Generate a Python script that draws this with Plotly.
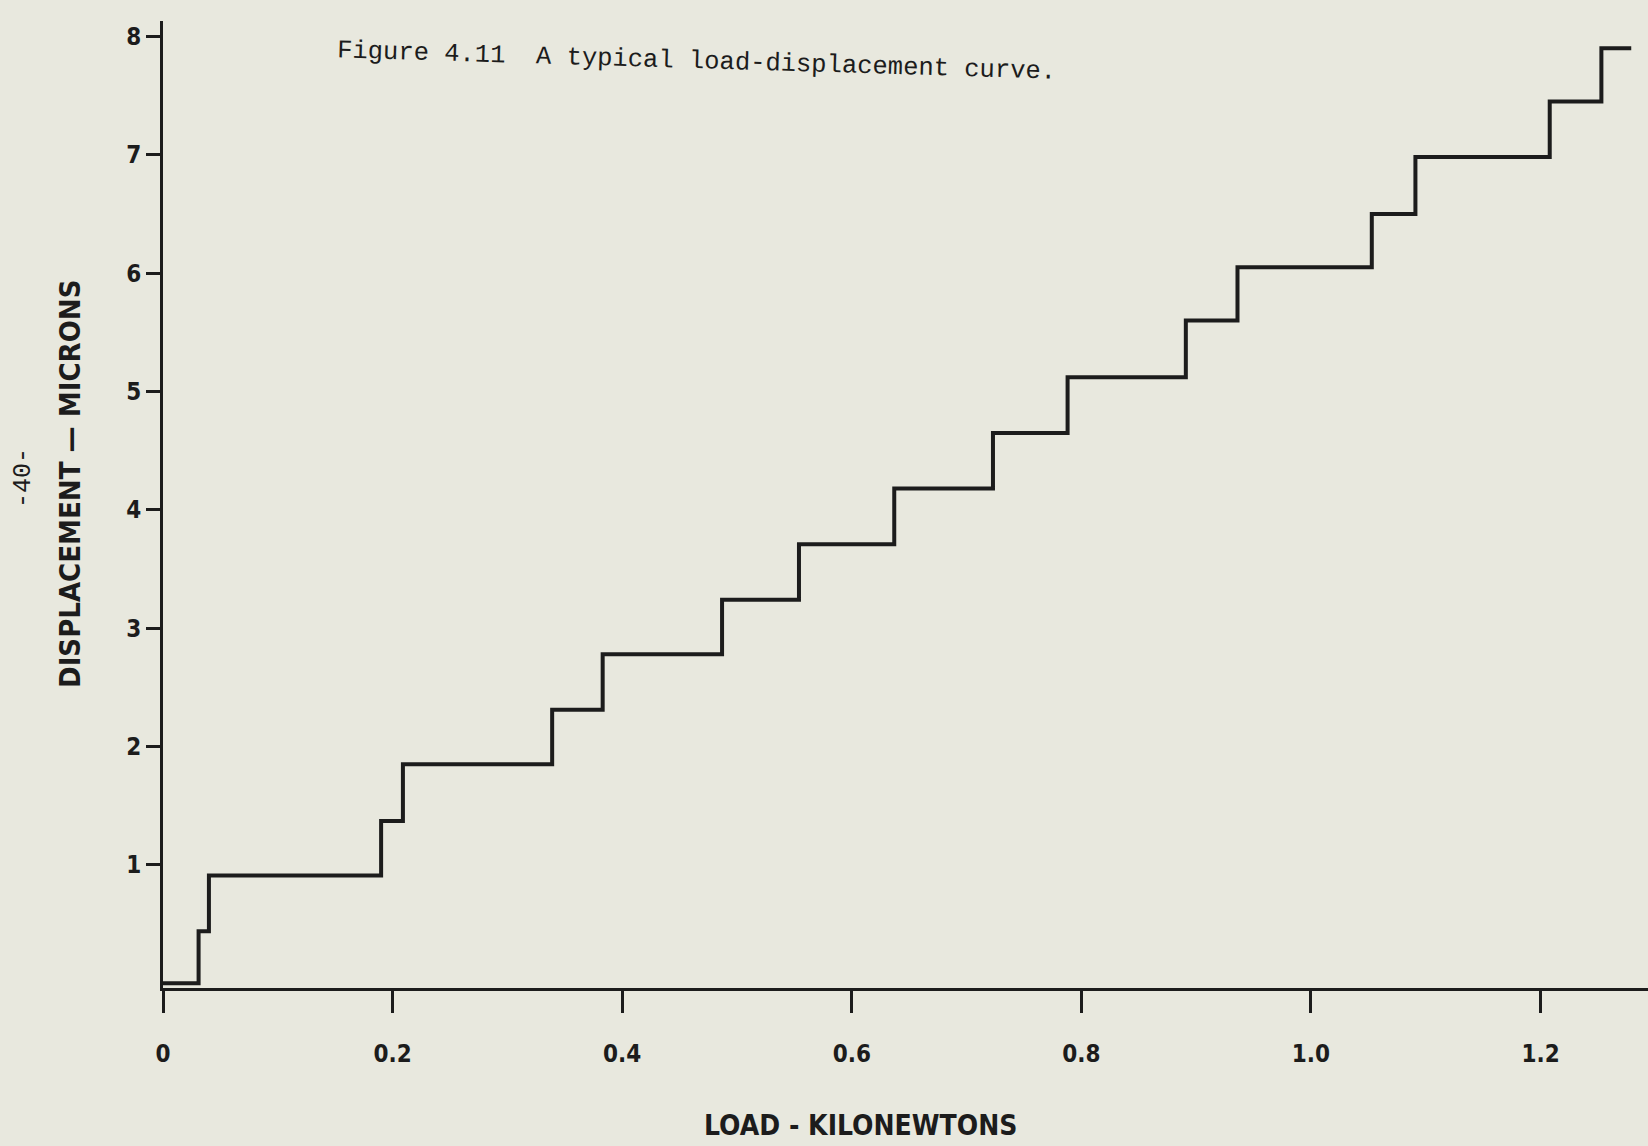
import plotly.graph_objects as go

# Step curve: load (kN) at which each step rises, and the displacement level reached
load_kn = [0.0, 0.031, 0.040, 0.190, 0.209, 0.339, 0.383, 0.487, 0.554, 0.637,
           0.723, 0.788, 0.891, 0.936, 1.053, 1.091, 1.208, 1.253, 1.279]
displacement_um = [0.0, 0.44, 0.91, 1.37, 1.85, 2.31, 2.78, 3.24, 3.71, 4.18,
                   4.65, 5.12, 5.60, 6.05, 6.50, 6.98, 7.45, 7.90, 7.90]

x_tick_vals = [0, 0.2, 0.4, 0.6, 0.8, 1.0, 1.2]
x_tick_text = ["0", "0.2", "0.4", "0.6", "0.8", "1.0", "1.2"]
y_tick_vals = [1, 2, 3, 4, 5, 6, 7, 8]
y_tick_text = ["1", "2", "3", "4", "5", "6", "7", "8"]

BG = "#e8e8de"
INK = "#1c1c1c"
SANS = "DejaVu Sans Condensed, Liberation Sans Narrow, Roboto, sans-serif"
MONO = "Liberation Mono, Courier New, monospace"

fig = go.Figure()
fig.add_trace(go.Scatter(
    x=load_kn, y=displacement_um, mode="lines",
    line=dict(color=INK, width=4, shape="hv"),
    showlegend=False, hoverinfo="skip",
))

fig.update_layout(
    width=1648, height=1146,
    paper_bgcolor=BG, plot_bgcolor=BG,
    margin=dict(l=163, r=0, t=21, b=158),
    xaxis=dict(
        range=[0, 1.2936], showgrid=False, zeroline=False,
        showline=True, linecolor=INK, linewidth=3,
        tickmode="array", tickvals=x_tick_vals, ticktext=x_tick_text,
        ticks="outside", ticklen=22, tickwidth=3, tickcolor=INK,
        ticklabelstandoff=20,
        tickfont=dict(family=SANS, size=24, color=INK, weight="bold"),
    ),
    yaxis=dict(
        range=[-0.04, 8.13], showgrid=False, zeroline=False,
        showline=True, linecolor=INK, linewidth=3,
        tickmode="array", tickvals=y_tick_vals, ticktext=y_tick_text,
        ticks="outside", ticklen=14, tickwidth=3, tickcolor=INK,
        ticklabelstandoff=0,
        tickfont=dict(family=SANS, size=24, color=INK, weight="bold"),
    ),
    annotations=[
        dict(text="Figure 4.11  A typical load-displacement curve.",
             xref="paper", yref="paper", x=(696 - 163) / 1485, y=(988 - 61) / 967,
             xanchor="center", yanchor="middle", showarrow=False, textangle=1.7,
             font=dict(family=MONO, size=25.5, color=INK)),
        dict(text="LOAD - KILONEWTONS",
             xref="paper", yref="paper", x=(860 - 163) / 1485, y=(988 - 1125) / 967,
             xanchor="center", yanchor="middle", showarrow=False,
             font=dict(family=SANS, size=28, color=INK, weight="bold")),
        dict(text="DISPLACEMENT — MICRONS",
             xref="paper", yref="paper", x=(70 - 163) / 1485, y=(988 - 484) / 967,
             xanchor="center", yanchor="middle", showarrow=False, textangle=-90,
             font=dict(family=SANS, size=29, color=INK, weight="bold")),
        dict(text="-40-",
             xref="paper", yref="paper", x=(24 - 163) / 1485, y=(988 - 478) / 967,
             xanchor="center", yanchor="middle", showarrow=False, textangle=-90,
             font=dict(family=MONO, size=25, color=INK)),
    ],
)

fig.write_html(
    "out.html",
    config={"displayModeBar": False},
    post_script="document.body.style.margin='0';document.body.style.background='%s';" % BG,
)
